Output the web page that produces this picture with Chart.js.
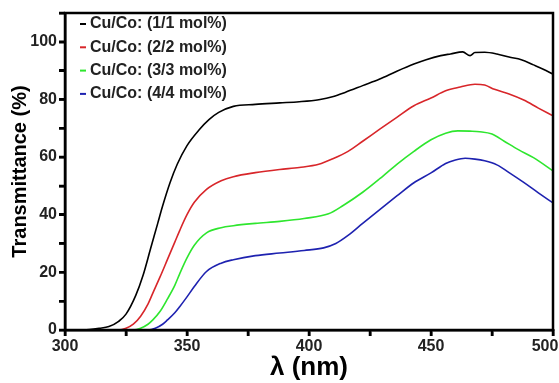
<!DOCTYPE html>
<html>
<head>
<meta charset="utf-8">
<script src="https://cdn.jsdelivr.net/npm/chart.js@4.4.1/dist/chart.umd.min.js"></script>
<style>
html,body{margin:0;padding:0;background:#fff;}
#wrap{width:559px;height:383px;}
</style>
</head>
<body>
<div id="wrap"><canvas id="c" width="559" height="383"></canvas></div>
<script>
const seriesLabels = ['Cu/Co: (1/1 mol%)', 'Cu/Co: (2/2 mol%)', 'Cu/Co: (3/3 mol%)', 'Cu/Co: (4/4 mol%)'];
const seriesColors = ['#000000', '#d8262a', '#2ee62e', '#1e22b0'];

const x1 = [300, 310, 314, 318, 322, 325, 329, 332, 335, 338, 340, 343, 346, 350, 355, 359, 363, 369, 378, 388, 396, 404, 410, 415, 422, 429, 436, 443, 448, 454, 458, 463, 466, 468, 472, 477, 482, 487, 492, 496, 500];
const y1 = [0, 0.2, 0.6, 1.2, 3, 5.5, 12, 19, 28, 37, 43, 51, 57.5, 64, 69.5, 73, 75.5, 77.6, 78.3, 78.8, 79.2, 79.9, 81, 82.5, 84.8, 87.1, 89.8, 92.3, 93.8, 95.2, 95.8, 96.5, 95.2, 96.3, 96.4, 95.8, 94.7, 93.8, 92, 90.5, 88.8];

const x2 = [300, 322, 325, 328, 331, 334, 336, 339, 342, 345, 347, 350, 353, 358, 364, 369, 378, 388, 396, 404, 410, 416, 422, 429, 436, 443, 450, 456, 462, 468, 472, 476, 482, 488, 494, 500];
const y2 = [0, 0, 0.6, 2, 4.8, 9, 12.8, 18.5, 24.5, 30.5, 34.5, 40, 44.3, 48.8, 51.8, 53.2, 54.6, 55.7, 56.4, 57.5, 59.5, 62, 65.5, 69.7, 73.8, 77.8, 80.5, 83, 84.3, 85.3, 85, 83.5, 81.9, 79.8, 77, 74.3];

const x3 = [300, 328, 331, 334, 336, 339, 342, 345, 347, 350, 353, 358, 364, 369, 378, 388, 398, 408, 414, 422, 429, 436, 443, 450, 456, 461, 466, 470, 475, 480, 486, 492, 500];
const y3 = [0, 0, 0.6, 2, 3.5, 6.5, 10.8, 15.5, 19.5, 25, 29.4, 33.7, 35.5, 36.2, 37, 37.7, 38.7, 40.3, 43.2, 47.8, 52.5, 57.5, 62, 66, 68.3, 69.1, 69, 68.8, 68, 65.5, 62.5, 59.8, 55.2];

const x4 = [300, 334, 337, 340, 342, 345, 347, 350, 353, 358, 364, 369, 378, 388, 398, 406, 411, 416, 422, 429, 436, 443, 450, 456, 460, 464, 468, 472, 477, 482, 488, 494, 500];
const y4 = [0, 0, 0.6, 2, 3.5, 6, 8.1, 11.5, 15.1, 20.3, 23.2, 24.4, 25.8, 26.7, 27.6, 28.5, 30, 32.8, 37, 41.8, 46.5, 51.1, 54.5, 57.8, 59, 59.6, 59.3, 58.7, 57.3, 54.6, 51.2, 47.6, 44.1];

const xLabels = [300, 350, 400, 450, 500];
const yLabels = [0, 20, 40, 60, 80, 100];

const xs = [x1, x2, x3, x4];
const ys = [y1, y2, y3, y4];

const datasets = seriesLabels.map((lab, i) => ({
  label: lab,
  data: xs[i].map((x, j) => ({x: x, y: ys[i][j]})),
  borderColor: seriesColors[i],
  backgroundColor: seriesColors[i],
  borderWidth: 1.6,
  pointRadius: 0,
  tension: 0.4,
  cubicInterpolationMode: 'monotone',
  fill: false,
  order: 3 - i
}));

const FONT = '"Liberation Sans", Arial, sans-serif';

const framePlugin = {
  id: 'frame',
  afterDatasetsDraw(chart) {
    const {ctx, chartArea: a, scales} = chart;
    ctx.save();
    ctx.strokeStyle = '#000';
    ctx.lineWidth = 2.5;
    ctx.strokeRect(a.left, a.top, a.right - a.left, a.bottom - a.top);
    // outward tick marks from the library's own tick lists
    ctx.lineWidth = 2.5;
    ctx.beginPath();
    scales.x.ticks.forEach(t => {
      const px = scales.x.getPixelForValue(t.value);
      ctx.moveTo(px, a.bottom);
      ctx.lineTo(px, a.bottom + 6);
    });
    scales.y.ticks.forEach(t => {
      const py = scales.y.getPixelForValue(t.value);
      ctx.moveTo(a.left, py);
      ctx.lineTo(a.left - 6, py);
    });
    ctx.stroke();
    ctx.restore();
  }
};

const legendPlugin = {
  id: 'inLegend',
  afterDatasetsDraw(chart) {
    const {ctx, chartArea: a} = chart;
    ctx.save();
    ctx.font = 'bold 16px ' + FONT;
    ctx.textBaseline = 'middle';
    chart.data.datasets.forEach((ds, i) => {
      const y = a.top + 11 + i * 23.3;
      ctx.strokeStyle = ds.borderColor;
      ctx.lineWidth = 2;
      ctx.beginPath();
      ctx.moveTo(a.left + 15, y);
      ctx.lineTo(a.left + 21, y);
      ctx.stroke();
      ctx.fillStyle = '#222';
      ctx.fillText(ds.label, a.left + 25, y);
    });
    ctx.restore();
  }
};

new Chart(document.getElementById('c'), {
  type: 'line',
  data: {datasets: datasets},
  options: {
    responsive: false,
    animation: false,
    layout: {padding: {top: 13, right: 6, left: 8, bottom: 0}},
    plugins: {legend: {display: false}, tooltip: {enabled: false}},
    scales: {
      x: {
        type: 'linear',
        min: 300, max: 500,
        afterFit(s) { s.height = 53; s.paddingRight = 0; s.paddingLeft = 0; },
        ticks: {
          stepSize: 25,
          autoSkip: false,
          maxRotation: 0,
          padding: 1,
          color: '#222',
          font: {family: FONT, weight: 'bold', size: 16},
          callback: v => v === 500 ? '500\u2002\u2002' : (xLabels.includes(v) ? String(v) : '')
        },
        grid: {display: true, drawOnChartArea: false, drawTicks: true, tickLength: 6, color: '#000', tickColor: '#000', lineWidth: 2.5, tickWidth: 2.5},
        border: {display: true, color: '#000', width: 2.5},
        title: {display: true, text: 'λ (nm)', color: '#000', font: {family: FONT, weight: 'bold', size: 26}, padding: {top: -3, bottom: 0}}
      },
      y: {
        min: 0, max: 110,
        afterFit(s) { s.width = 57; },
        ticks: {
          stepSize: 10,
          autoSkip: false,
          padding: 2,
          color: '#222',
          font: {family: FONT, weight: 'bold', size: 16},
          callback: v => yLabels.includes(v) ? String(v) : ''
        },
        grid: {display: true, drawOnChartArea: false, drawTicks: true, tickLength: 6, color: '#000', tickColor: '#000', lineWidth: 2.5, tickWidth: 2.5},
        border: {display: true, color: '#000', width: 2.5},
        title: {display: true, text: 'Transmittance (%)', color: '#000', font: {family: FONT, weight: 'bold', size: 20}, padding: {top: 0, bottom: 0}}
      }
    }
  },
  plugins: [framePlugin, legendPlugin]
});
</script>
</body>
</html>
